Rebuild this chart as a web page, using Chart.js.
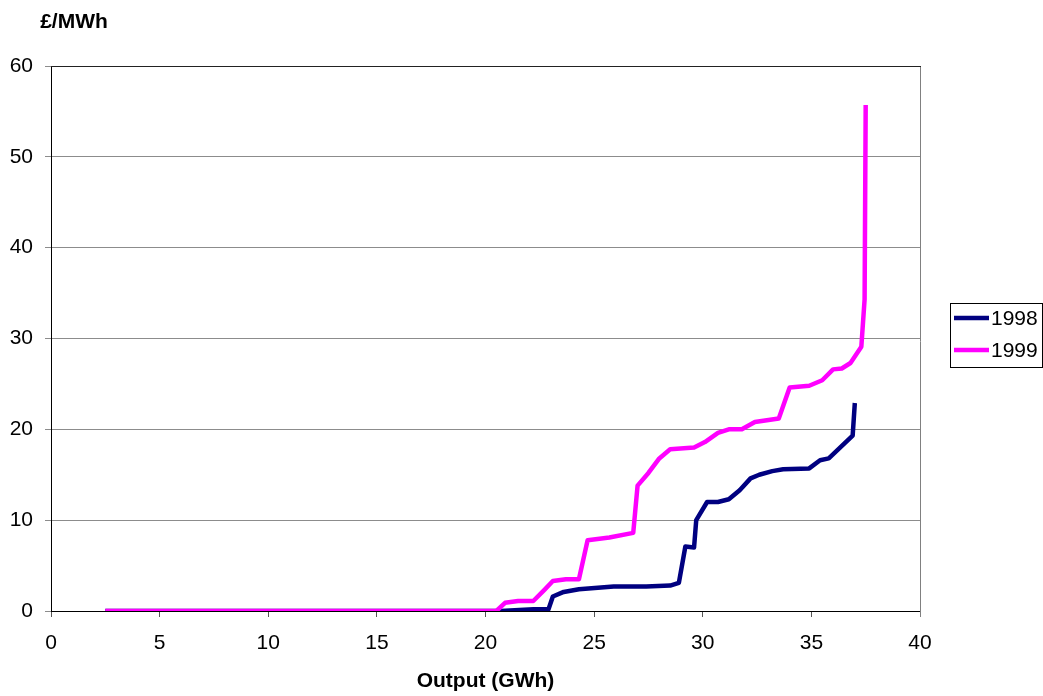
<!DOCTYPE html>
<html>
<head>
<meta charset="utf-8">
<title>Output price curve</title>
<script src="https://cdn.jsdelivr.net/npm/chart.js@4/dist/chart.umd.min.js"></script>
<style>
  html, body { margin: 0; padding: 0; background: #ffffff; }
  #wrap { width: 1043px; height: 696px; position: relative; }
</style>
</head>
<body>
<div id="wrap"><canvas id="chart" width="1043" height="696"></canvas></div>
<script>
// Series labels
const seriesNames = ['1998', '1999'];

// 1998 curve: output (GWh) and price (£/MWh)
const output1998 = [2.5, 20.7, 22.2, 22.9, 23.1, 23.6, 24.3, 25.9, 27.4, 28.5, 28.9, 29.2, 29.6, 29.7, 30.2, 30.7, 31.2, 31.7, 32.2, 32.6, 33.2, 33.7, 34.9, 35.4, 35.8, 36.9, 37.0];
const price1998  = [0, 0, 0.2, 0.2, 1.6, 2.1, 2.4, 2.7, 2.7, 2.8, 3.1, 7.1, 7.0, 10.0, 12.0, 12.0, 12.3, 13.3, 14.6, 15.0, 15.4, 15.6, 15.7, 16.6, 16.8, 19.3, 22.9];

// 1999 curve: output (GWh) and price (£/MWh)
const output1999 = [2.5, 20.5, 20.9, 21.5, 22.2, 22.7, 23.1, 23.7, 24.3, 24.7, 25.7, 26.8, 27.0, 27.5, 28.0, 28.5, 29.6, 30.1, 30.7, 31.2, 31.8, 32.4, 33.5, 34.0, 34.9, 35.5, 36.0, 36.4, 36.8, 37.3, 37.45, 37.5];
const price1999  = [0, 0, 0.9, 1.1, 1.1, 2.3, 3.3, 3.5, 3.5, 7.8, 8.1, 8.6, 13.8, 15.2, 16.8, 17.8, 18.0, 18.6, 19.6, 20.0, 20.0, 20.8, 21.2, 24.6, 24.8, 25.4, 26.6, 26.7, 27.3, 29.1, 34.3, 55.7];

// Axis settings
const xTicks = { min: 0, max: 40, step: 5 };
const yTicks = { min: 0, max: 60, step: 10 };
const yTitle = '£/MWh';
const xTitle = 'Output (GWh)';

const FONT = "'Liberation Sans', Arial, Helvetica, sans-serif";
const NAVY = '#000080';
const MAGENTA = '#FF00FF';

function toPoints(xs, ys) {
  return xs.map((x, i) => ({ x: x, y: ys[i] }));
}

// Frame, axis titles and legend drawn on the canvas
const decorations = {
  id: 'decorations',
  beforeDatasetsDraw(chart) {
    const { ctx, chartArea: a } = chart;
    ctx.save();
    ctx.lineWidth = 1;
    ctx.strokeStyle = '#808080';
    ctx.beginPath();
    ctx.moveTo(a.right + 0.5, a.top);
    ctx.lineTo(a.right + 0.5, a.bottom + 6);
    ctx.stroke();
    ctx.strokeStyle = '#222222';
    ctx.beginPath();
    ctx.moveTo(a.left, a.top + 0.5);
    ctx.lineTo(a.right + 1, a.top + 0.5);
    ctx.stroke();
    ctx.restore();
  },
  afterDraw(chart) {
    const { ctx, chartArea: a } = chart;
    ctx.save();
    ctx.fillStyle = '#000000';
    ctx.textBaseline = 'middle';
    ctx.textAlign = 'center';
    ctx.font = 'bold 21px ' + FONT;
    ctx.fillText(yTitle, 74, 22);
    ctx.fillText(xTitle, (a.left + a.right) / 2, 681);

    // legend
    const bx = 950.5, by = 303.5, bw = 92, bh = 64;
    ctx.strokeStyle = '#000000';
    ctx.lineWidth = 1;
    ctx.strokeRect(bx, by, bw, bh);
    const ys = [318, 350];
    chart.data.datasets.forEach((ds, i) => {
      ctx.strokeStyle = ds.borderColor;
      ctx.lineWidth = 4.5;
      ctx.beginPath();
      ctx.moveTo(954, ys[i]);
      ctx.lineTo(989, ys[i]);
      ctx.stroke();
      ctx.fillStyle = '#000000';
      ctx.textAlign = 'left';
      ctx.font = '21px ' + FONT;
      ctx.fillText(ds.label, 991, ys[i] + 1);
    });
    ctx.restore();
  }
};

new Chart(document.getElementById('chart'), {
  type: 'line',
  data: {
    datasets: [
      {
        label: seriesNames[0],
        data: toPoints(output1998, price1998),
        borderColor: NAVY,
        backgroundColor: NAVY,
        borderWidth: 4.5,
        pointRadius: 0,
        tension: 0,
        borderJoinStyle: 'round',
        order: 2
      },
      {
        label: seriesNames[1],
        data: toPoints(output1999, price1999),
        borderColor: MAGENTA,
        backgroundColor: MAGENTA,
        borderWidth: 4.5,
        pointRadius: 0,
        tension: 0,
        borderJoinStyle: 'round',
        order: 1
      }
    ]
  },
  options: {
    responsive: false,
    animation: false,
    devicePixelRatio: 1,
    layout: { padding: { left: 0, top: 66, right: 123, bottom: 0 } },
    plugins: {
      legend: { display: false },
      tooltip: { enabled: false },
      title: { display: false }
    },
    scales: {
      x: {
        type: 'linear',
        min: xTicks.min,
        max: xTicks.max,
        afterFit(scale) { scale.height = 85; },
        ticks: {
          stepSize: xTicks.step,
          color: '#000000',
          font: { family: FONT, size: 21 },
          padding: 14,
          maxRotation: 0
        },
        grid: {
          drawOnChartArea: false,
          drawTicks: true,
          tickLength: 6,
          color: '#555555'
        },
        border: { display: true, color: '#000000', width: 1 }
      },
      y: {
        type: 'linear',
        min: yTicks.min,
        max: yTicks.max,
        afterFit(scale) { scale.width = 51; },
        ticks: {
          stepSize: yTicks.step,
          color: '#000000',
          font: { family: FONT, size: 21 },
          padding: 12
        },
        grid: {
          drawOnChartArea: true,
          drawTicks: true,
          tickLength: 6,
          color: '#8c8c8c'
        },
        border: { display: true, color: '#000000', width: 1 }
      }
    }
  },
  plugins: [decorations]
});
</script>
</body>
</html>
